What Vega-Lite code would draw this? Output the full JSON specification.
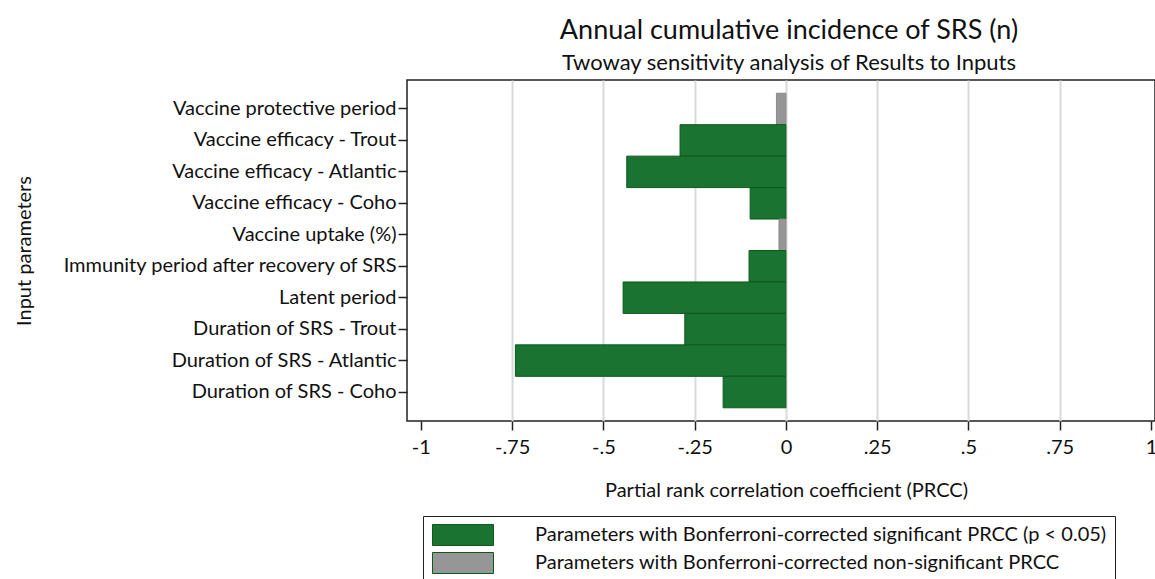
{
  "$schema": "https://vega.github.io/schema/vega-lite/v6.json",
  "autosize": "none",
  "width": 748,
  "height": 341,
  "padding": {"left": 407, "top": 80, "right": 0, "bottom": 158},
  "background": "white",
  "config": {
    "font": "Lato",
    "view": {"stroke": "#222", "strokeWidth": 1.5},
    "axis": {"labelFont": "Lato", "titleFont": "Lato", "labelColor": "#111", "titleColor": "#111", "tickColor": "#222", "domain": false}
  },
  "title": {
    "text": "Annual cumulative incidence of SRS (n)",
    "subtitle": "Twoway sensitivity analysis of Results to Inputs",
    "anchor": "middle",
    "dx": 8,
    "fontSize": 27,
    "fontWeight": "normal",
    "font": "Lato",
    "color": "#111",
    "subtitleFont": "Lato",
    "subtitleFontSize": 22,
    "subtitleColor": "#111",
    "subtitlePadding": 8,
    "offset": 5
  },
  "data": {
    "values": [
      {"param": "Vaccine protective period", "prcc": -0.026, "sig": "Parameters with Bonferroni-corrected non-significant PRCC"},
      {"param": "Vaccine efficacy - Trout", "prcc": -0.290, "sig": "Parameters with Bonferroni-corrected significant PRCC (p < 0.05)"},
      {"param": "Vaccine efficacy - Atlantic", "prcc": -0.436, "sig": "Parameters with Bonferroni-corrected significant PRCC (p < 0.05)"},
      {"param": "Vaccine efficacy - Coho", "prcc": -0.098, "sig": "Parameters with Bonferroni-corrected significant PRCC (p < 0.05)"},
      {"param": "Vaccine uptake (%)", "prcc": -0.019, "sig": "Parameters with Bonferroni-corrected non-significant PRCC"},
      {"param": "Immunity period after recovery of SRS", "prcc": -0.101, "sig": "Parameters with Bonferroni-corrected significant PRCC (p < 0.05)"},
      {"param": "Latent period", "prcc": -0.446, "sig": "Parameters with Bonferroni-corrected significant PRCC (p < 0.05)"},
      {"param": "Duration of SRS - Trout", "prcc": -0.277, "sig": "Parameters with Bonferroni-corrected significant PRCC (p < 0.05)"},
      {"param": "Duration of SRS - Atlantic", "prcc": -0.741, "sig": "Parameters with Bonferroni-corrected significant PRCC (p < 0.05)"},
      {"param": "Duration of SRS - Coho", "prcc": -0.172, "sig": "Parameters with Bonferroni-corrected significant PRCC (p < 0.05)"}
    ]
  },
  "mark": {"type": "bar", "strokeWidth": 1},
  "encoding": {
    "y": {
      "field": "param",
      "type": "nominal",
      "sort": null,
      "scale": {"paddingInner": 0, "paddingOuter": 0.42},
      "axis": {
        "title": "Input parameters",
        "titleFontSize": 20,
        "titleFontWeight": "normal",
        "titleAngle": 270,
        "titleX": -383,
        "titleY": 170.5,
        "titleAlign": "center",
        "titleBaseline": "middle",
        "labelFontSize": 20,
        "labelLimit": 400,
        "tickSize": 9,
        "tickWidth": 1.5,
        "labelPadding": 2,
        "grid": false
      }
    },
    "x": {
      "field": "prcc",
      "type": "quantitative",
      "scale": {"domain": [-1.038, 1.011], "nice": false, "zero": false},
      "axis": {
        "title": "Partial rank correlation coefficient (PRCC)",
        "titleFontSize": 20,
        "titleFontWeight": "normal",
        "titleX": 379,
        "titleY": 69,
        "titleAlign": "center",
        "titleBaseline": "middle",
        "values": [-1, -0.75, -0.5, -0.25, 0, 0.25, 0.5, 0.75, 1],
        "labelExpr": "replace(toString(datum.value), '0.', '.')",
        "labelFontSize": 20,
        "labelPadding": 7,
        "tickSize": 9,
        "tickWidth": 1.5,
        "grid": true,
        "gridColor": "#d9d9d9",
        "gridWidth": 2,
        "gridOpacity": {"condition": {"test": "abs(datum.value) == 1", "value": 0}, "value": 1}
      }
    },
    "color": {
      "field": "sig",
      "type": "nominal",
      "scale": {
        "domain": ["Parameters with Bonferroni-corrected significant PRCC (p < 0.05)", "Parameters with Bonferroni-corrected non-significant PRCC"],
        "range": ["#1a7330", "#969696"]
      },
      "legend": {
        "title": null,
        "orient": "none",
        "legendX": 16,
        "legendY": 436,
        "direction": "vertical",
        "strokeColor": "#222",
        "padding": 8,
        "symbolType": "M-2.905,-1L2.905,-1L2.905,1L-2.905,1Z",
        "symbolSize": 441,
        "symbolStrokeWidth": 1,
        "symbolOpacity": 1,
        "symbolOffset": 21,
        "labelOffset": 61,
        "labelFontSize": 20,
        "labelFont": "Lato",
        "labelColor": "#111",
        "labelLimit": 800,
        "rowPadding": 2,
        "encode": {
          "symbols": {"update": {"stroke": {"signal": "indexof(datum.label, 'non-') >= 0 ? '#8a8a8a' : '#0b5a1c'"}}}
        }
      }
    },
    "stroke": {
      "condition": {"test": "indexof(datum.sig, 'non-') >= 0", "value": "#8a8a8a"},
      "value": "#0b5a1c"
    }
  }
}
